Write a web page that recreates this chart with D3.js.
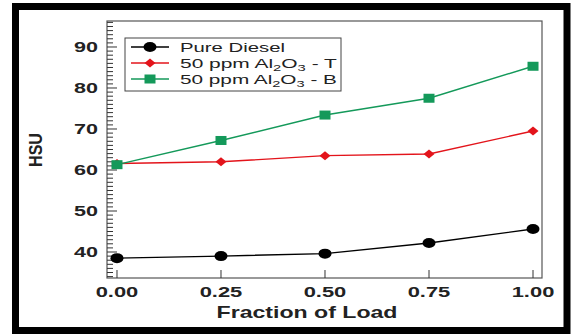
<!DOCTYPE html>
<html><head><meta charset="utf-8">
<script src="https://cdn.jsdelivr.net/npm/d3@7"></script>
<style>body{margin:0;background:#fff}svg{display:block}</style>
</head><body>
<script>
const loads = [0, 0.25, 0.5, 0.75, 1.0];
const pureDiesel = [38.5, 39.0, 39.6, 42.2, 45.6];
const alT = [61.6, 62.0, 63.5, 63.9, 69.5];
const alB = [61.3, 67.2, 73.4, 77.5, 85.3];
const xTicks = [0, 0.25, 0.5, 0.75, 1.0];
const yTicks = [40, 50, 60, 70, 80, 90];
const seriesNames = ["Pure Diesel", "50 ppm Al2O3 - T", "50 ppm Al2O3 - B"];

const W = 571, H = 334;
const FONT = "Liberation Sans, Arial, sans-serif";
const svg = d3.select("body").append("svg").attr("width", W).attr("height", H);
svg.append("rect").attr("width", W).attr("height", H).attr("fill", "#fff");
// black frame
svg.append("rect").attr("x", 15.5).attr("y", 6.5).attr("width", 551.5).attr("height", 324)
  .attr("fill", "none").attr("stroke", "#000").attr("stroke-width", 7);

// stretch a text element horizontally to a target width, anchored at ax
function fit(t, target, ax) {
  const w = t.node().getBBox().width;
  const s = target / w;
  t.attr("transform", `translate(${ax},0) scale(${s},1) translate(${-ax},0)`);
}

const L = 107, R = 542, T = 21, B = 278;
const x = d3.scaleLinear().domain([-0.024, 1.0216]).range([L, R]);
const y = d3.scaleLinear().domain([33.66, 96.34]).range([B, T]);

// plot box
svg.append("rect").attr("x", L).attr("y", T).attr("width", R - L).attr("height", B - T)
  .attr("fill", "none").attr("stroke", "#555").attr("stroke-width", 1.2);

// y ticks (inward)
const minor = d3.range(34, 97, 1);
svg.append("g").selectAll("line").data(minor).join("line")
  .attr("x1", L).attr("x2", d => L + (d % 10 === 0 ? 10 : 6))
  .attr("y1", d => y(d)).attr("y2", d => y(d))
  .attr("stroke", "#333").attr("stroke-width", 1);
svg.append("g").selectAll("text").data(yTicks).join("text")
  .attr("x", 98).attr("y", d => y(d)).attr("dy", "0.36em")
  .attr("text-anchor", "end").attr("font-family", FONT)
  .attr("font-weight", "bold").attr("font-size", 15).attr("fill", "#222").text(d => d)
  .each(function () { fit(d3.select(this), 24, 98); });

// x ticks (inward)
svg.append("g").selectAll("line").data(xTicks).join("line")
  .attr("x1", d => x(d)).attr("x2", d => x(d)).attr("y1", B).attr("y2", B - 8)
  .attr("stroke", "#333").attr("stroke-width", 1);
svg.append("g").selectAll("text").data(xTicks).join("text")
  .attr("x", d => x(d)).attr("y", 297)
  .attr("text-anchor", "middle").attr("font-family", FONT)
  .attr("font-weight", "bold").attr("font-size", 14).attr("fill", "#222")
  .text(d => d3.format(".2f")(d))
  .each(function (d) { fit(d3.select(this), 43, x(d)); });

// axis titles
const xt = svg.append("text").attr("x", 307).attr("y", 318).attr("text-anchor", "middle")
  .attr("font-family", FONT).attr("font-weight", "bold")
  .attr("font-size", 16).attr("fill", "#222").text("Fraction of Load");
fit(xt, 181, 307);
svg.append("text").attr("transform", `translate(42,150) rotate(-90)`)
  .attr("text-anchor", "middle").attr("font-family", FONT)
  .attr("font-weight", "bold").attr("font-size", 18).attr("fill", "#222")
  .attr("textLength", 34).attr("lengthAdjust", "spacingAndGlyphs").text("HSU");

const colors = ["#000000", "#e3141b", "#14995a"];
const data = [pureDiesel, alT, alB];
const line = d3.line().x((d, i) => x(loads[i])).y(d => y(d));

function marker(g, k, cx, cy) {
  if (k === 0) g.append("ellipse").attr("cx", cx).attr("cy", cy).attr("rx", 6.5).attr("ry", 5).attr("fill", colors[0]);
  else if (k === 1) g.append("path").attr("d", `M${cx - 5.5},${cy} L${cx},${cy - 4.5} L${cx + 5.5},${cy} L${cx},${cy + 4.5} Z`).attr("fill", colors[1]);
  else g.append("rect").attr("x", cx - 5.5).attr("y", cy - 4.5).attr("width", 11).attr("height", 9).attr("fill", colors[2]);
}

data.forEach((vals, k) => {
  const g = svg.append("g");
  g.append("path").attr("d", line(vals)).attr("fill", "none").attr("stroke", colors[k]).attr("stroke-width", 1.4);
  vals.forEach((v, i) => marker(g, k, x(loads[i]), y(v)));
});

// legend
const lg = svg.append("g");
lg.append("rect").attr("x", 125).attr("y", 38).attr("width", 216).attr("height", 53)
  .attr("fill", "#fff").attr("stroke", "#444").attr("stroke-width", 1);
const ly = [47, 63, 79];
const lw = [105, 157, 157];
seriesNames.forEach((n, k) => {
  lg.append("line").attr("x1", 131).attr("x2", 169).attr("y1", ly[k]).attr("y2", ly[k])
    .attr("stroke", colors[k]).attr("stroke-width", 1.4);
  marker(lg, k, 150, ly[k]);
  const t = lg.append("text").attr("x", 180).attr("y", ly[k] + 4.7)
    .attr("font-family", FONT).attr("font-size", 13.5).attr("fill", "#222");
  if (k === 0) t.text(n);
  else {
    const suffix = k === 1 ? " - T" : " - B";
    t.append("tspan").text("50 ppm Al");
    t.append("tspan").attr("font-size", 9.5).attr("dy", 3.5).text("2");
    t.append("tspan").attr("dy", -3.5).text("O");
    t.append("tspan").attr("font-size", 9.5).attr("dy", 3.5).text("3");
    t.append("tspan").attr("dy", -3.5).text(suffix);
  }
  fit(t, lw[k], 180);
});
</script>
</body></html>
